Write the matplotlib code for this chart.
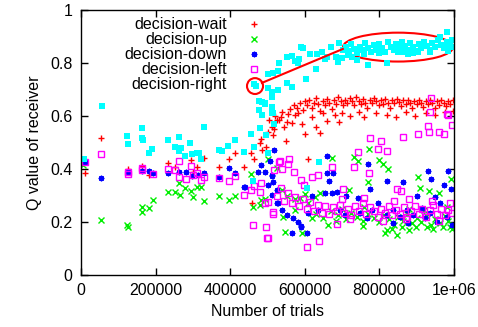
import matplotlib
matplotlib.use('Agg')
import matplotlib.pyplot as plt
from matplotlib.patches import Ellipse

plt.rcParams['font.family'] = ['Liberation Sans', 'DejaVu Sans']

# decision-wait (red +)
wait_x = [10700, 54000, 126000, 163000, 182000, 233000, 252000, 295000, 311000, 300000,
          330000, 370000, 397000, 413000, 437000, 456000, 464000, 458000, 480000, 483000,
          496000, 504000, 512000, 518000, 531000, 515000, 550000, 601000, 641000, 608000,
          630000, 593000, 566000, 552000, 525000, 536000, 555000, 574000, 582000, 660000,
          692000, 486000, 500000, 520000, 540000, 545000,
          560000, 570000, 578000, 588000, 595000, 600000, 606000, 612000, 618000, 625000,
          630000, 636000, 642000, 648000, 655000, 660000, 666000, 672000, 678000, 684000,
          690000, 696000, 702000, 708000, 714000, 720000, 726000, 732000, 738000, 744000,
          750000, 756000, 762000, 768000, 774000, 780000, 786000, 792000, 798000, 804000,
          810000, 816000, 822000, 828000, 834000, 840000, 846000, 852000, 858000, 864000,
          870000, 876000, 882000, 888000, 894000, 900000, 906000, 912000, 918000, 924000,
          930000, 936000, 942000, 948000, 954000, 960000, 966000, 972000, 978000, 984000,
          990000, 996000,
          700000, 720000, 745000, 760000, 790000, 820000, 845000, 870000, 895000, 925000,
          950000, 975000, 998000, 680000, 650000, 620000]
wait_y = [0.385, 0.517, 0.400, 0.411, 0.377, 0.423, 0.408, 0.434, 0.408, 0.389,
          0.442, 0.408, 0.438, 0.460, 0.408, 0.460, 0.438, 0.272, 0.498, 0.513,
          0.483, 0.585, 0.558, 0.551, 0.585, 0.528, 0.506, 0.532, 0.536, 0.438,
          0.558, 0.570, 0.574, 0.577, 0.585, 0.596, 0.608, 0.604, 0.611, 0.581,
          0.577, 0.470, 0.540, 0.600, 0.615, 0.560,
          0.625, 0.640, 0.630, 0.648, 0.622, 0.655, 0.640, 0.660, 0.632, 0.650,
          0.668, 0.645, 0.620, 0.658, 0.640, 0.665, 0.650, 0.628, 0.660, 0.645,
          0.670, 0.655, 0.640, 0.662, 0.648, 0.668, 0.655, 0.640, 0.672, 0.658,
          0.645, 0.665, 0.650, 0.630, 0.662, 0.648, 0.668, 0.655, 0.640, 0.660,
          0.645, 0.665, 0.650, 0.632, 0.660, 0.648, 0.665, 0.652, 0.638, 0.660,
          0.645, 0.662, 0.650, 0.630, 0.658, 0.645, 0.662, 0.650, 0.635, 0.658,
          0.645, 0.660, 0.648, 0.632, 0.655, 0.642, 0.662, 0.650, 0.638, 0.655,
          0.645, 0.660,
          0.610, 0.600, 0.615, 0.598, 0.612, 0.605, 0.595, 0.615, 0.600, 0.612,
          0.605, 0.615, 0.620, 0.605, 0.612, 0.598]

# decision-up (green x)
up_x = [5400, 54000, 123000, 126000, 163000, 163000, 182000, 193000, 233000, 252000,
        263000, 265000, 279000, 295000, 300000, 311000, 322000, 330000, 370000, 397000,
        413000, 456000, 461000, 480000, 493000,
        772000, 743000, 732000, 799000, 810000, 823000, 673000, 769000, 903000, 992000,
        960000, 909000, 933000, 718000, 641000, 601000, 547000, 593000, 662000, 684000,
        756000, 820000, 847000, 815000, 898000, 928000, 989000, 995000,
        501000, 525000, 539000, 552000, 574000, 587000, 609000, 627000, 483000, 542000,
        574000, 619000,
        630000, 650000, 670000, 690000, 710000, 725000, 740000, 755000, 770000, 785000,
        800000, 812000, 825000, 838000, 850000, 862000, 875000, 888000, 900000, 912000,
        925000, 938000, 950000, 962000, 975000, 985000, 997000, 835000, 860000, 880000,
        945000, 970000, 700000, 760000, 880000, 920000, 980000]
up_y = [0.415, 0.208, 0.189, 0.182, 0.257, 0.238, 0.253, 0.283, 0.313, 0.313,
        0.347, 0.302, 0.328, 0.317, 0.294, 0.332, 0.332, 0.279, 0.298, 0.283,
        0.298, 0.381, 0.257, 0.264, 0.287,
        0.475, 0.430, 0.445, 0.434, 0.419, 0.400, 0.442, 0.351, 0.370, 0.362,
        0.309, 0.328, 0.317, 0.321, 0.309, 0.306, 0.162, 0.158, 0.189, 0.204,
        0.185, 0.170, 0.151, 0.158, 0.181, 0.181, 0.181, 0.175,
        0.438, 0.404, 0.321, 0.298, 0.287, 0.291, 0.272, 0.294, 0.283, 0.219,
        0.245, 0.215,
        0.230, 0.215, 0.240, 0.225, 0.210, 0.235, 0.220, 0.205, 0.230, 0.215,
        0.200, 0.225, 0.210, 0.190, 0.220, 0.205, 0.230, 0.195, 0.215, 0.200,
        0.225, 0.190, 0.210, 0.198, 0.222, 0.205, 0.190, 0.175, 0.180, 0.170,
        0.172, 0.180, 0.250, 0.255, 0.250, 0.245, 0.255]

# decision-down (blue *)
down_x = [10700, 54000, 126000, 163000, 182000, 193000, 233000, 263000, 281000, 298000,
          314000, 330000, 370000, 397000, 413000, 437000, 440000, 483000, 507000, 518000,
          512000, 512000, 525000,
          475000, 493000, 512000, 515000, 501000, 525000, 528000, 539000, 552000, 568000,
          582000, 590000, 609000, 635000, 654000, 673000, 686000, 694000, 708000, 743000,
          748000, 767000, 780000, 796000, 820000, 836000, 855000, 874000, 890000, 914000,
          936000, 962000, 981000, 995000, 922000, 954000, 836000, 877000,
          660000, 769000, 676000, 660000, 665000, 775000, 820000, 863000, 930000, 938000,
          973000, 984000, 992000, 566000, 606000, 590000, 620000, 710000, 900000, 950000]
down_y = [0.426, 0.366, 0.389, 0.392, 0.392, 0.385, 0.385, 0.389, 0.389, 0.374,
          0.377, 0.385, 0.370, 0.404, 0.385, 0.332, 0.332, 0.415, 0.430, 0.472,
          0.374, 0.302, 0.272,
          0.389, 0.389, 0.377, 0.351, 0.340, 0.321, 0.272, 0.245, 0.226, 0.215,
          0.200, 0.185, 0.234, 0.245, 0.309, 0.309, 0.313, 0.245, 0.226, 0.291,
          0.234, 0.215, 0.245, 0.272, 0.226, 0.245, 0.219, 0.245, 0.226, 0.253,
          0.234, 0.272, 0.219, 0.189, 0.215, 0.200, 0.196, 0.196,
          0.449, 0.419, 0.385, 0.385, 0.355, 0.325, 0.355, 0.351, 0.392, 0.362,
          0.340, 0.392, 0.325, 0.158, 0.158, 0.181, 0.300, 0.300, 0.300, 0.295]

# decision-left (magenta open squares)
left_x = [10700, 54000, 126000, 126000, 163000, 163000, 193000, 233000, 263000, 252000,
          281000, 263000, 295000, 300000, 311000, 322000, 330000, 370000, 397000, 413000,
          437000, 456000, 461000, 496000, 501000, 464000, 483000, 480000, 515000, 515000,
          531000, 518000, 493000, 501000,
          558000, 534000, 555000, 743000, 775000, 804000, 796000, 820000, 863000, 903000,
          930000, 933000, 960000, 973000, 984000, 995000, 936000, 938000, 981000, 732000,
          772000, 847000, 858000, 673000, 635000, 702000, 606000, 638000, 499000, 686000,
          540000, 570000, 590000, 620000, 598000,
          525000, 535000, 545000, 555000, 565000, 575000, 585000, 595000, 605000, 615000,
          625000, 635000, 645000, 655000, 665000, 675000, 685000, 695000, 705000, 715000,
          725000, 735000, 745000, 755000, 765000, 775000, 785000, 795000, 805000, 815000,
          825000, 835000, 845000, 855000, 865000, 875000, 885000, 895000, 905000, 915000,
          925000, 935000, 945000, 955000, 965000, 975000, 985000, 995000, 700000, 760000,
          840000, 880000, 940000, 990000, 720000, 810000, 870000, 960000]
left_y = [0.426, 0.457, 0.389, 0.380, 0.396, 0.405, 0.381, 0.400, 0.430, 0.396,
          0.362, 0.370, 0.411, 0.377, 0.385, 0.358, 0.370, 0.366, 0.355, 0.374,
          0.302, 0.321, 0.189, 0.181, 0.140, 0.336, 0.347, 0.313, 0.238, 0.230,
          0.426, 0.396, 0.272, 0.275,
          0.438, 0.430, 0.419, 0.464, 0.517, 0.506, 0.475, 0.468, 0.521, 0.532,
          0.562, 0.540, 0.540, 0.532, 0.604, 0.566, 0.615, 0.668, 0.608, 0.408,
          0.385, 0.325, 0.317, 0.408, 0.377, 0.325, 0.106, 0.130, 0.140, 0.192,
          0.400, 0.390, 0.360, 0.370, 0.340,
          0.300, 0.330, 0.280, 0.310, 0.270, 0.295, 0.260, 0.285, 0.250, 0.275,
          0.240, 0.265, 0.235, 0.260, 0.230, 0.255, 0.240, 0.265, 0.235, 0.250,
          0.225, 0.260, 0.240, 0.270, 0.230, 0.255, 0.240, 0.220, 0.250, 0.235,
          0.260, 0.225, 0.245, 0.230, 0.255, 0.220, 0.240, 0.260, 0.230, 0.250,
          0.220, 0.245, 0.265, 0.230, 0.250, 0.225, 0.245, 0.235, 0.285, 0.290,
          0.280, 0.285, 0.280, 0.270, 0.210, 0.205, 0.210, 0.205]

# decision-right (cyan filled squares)
right_x = [8000, 55500, 123000, 126000, 163500, 163000, 165000, 190000, 182000, 233000,
           263000, 252000, 268000, 263000, 292000, 279000, 297000, 311000, 315000, 330000,
           322000, 370000, 378000, 394000, 413000, 437000, 456000, 464000, 461000, 638000,
           606000, 500000, 496000, 480000, 518000,
           469000, 501000, 515000, 531000, 528000, 552000, 566000, 590000, 595000, 574000,
           584000, 582000, 603000, 630000, 614000, 633000, 646000, 654000, 670000, 660000,
           684000, 689000, 692000, 702000, 552000, 566000, 501000, 512000, 528000, 512000,
           485000, 493000, 513000, 477000, 485000, 515000, 478000, 493000, 513000,
           981000, 962000, 769000, 820000, 861000, 877000, 903000, 700000, 740000, 726000,
           710000, 718000, 725000, 732000, 740000, 748000, 755000, 762000, 770000, 778000,
           785000, 792000, 800000, 808000, 815000, 822000, 830000, 838000, 845000, 852000,
           860000, 868000, 875000, 882000, 890000, 898000, 905000, 912000, 920000, 928000,
           935000, 942000, 950000, 958000, 965000, 972000, 980000, 988000, 995000, 998000,
           715000, 760000, 800000, 850000, 890000, 935000, 985000]
right_y = [0.436, 0.638, 0.525, 0.494, 0.555, 0.517, 0.510, 0.475, 0.460, 0.509,
           0.520, 0.483, 0.479, 0.468, 0.498, 0.449, 0.457, 0.460, 0.460, 0.558,
           0.438, 0.472, 0.468, 0.487, 0.509, 0.464, 0.532, 0.483, 0.355, 0.426,
           0.328, 0.462, 0.528, 0.555, 0.570,
           0.713, 0.758, 0.762, 0.800, 0.770, 0.823, 0.826, 0.860, 0.855, 0.808,
           0.815, 0.800, 0.740, 0.777, 0.834, 0.834, 0.842, 0.815, 0.860, 0.823,
           0.823, 0.804, 0.875, 0.849, 0.725, 0.709, 0.706, 0.691, 0.698, 0.672,
           0.653, 0.645, 0.634, 0.623, 0.604, 0.611, 0.657, 0.649, 0.611,
           0.917, 0.898, 0.792, 0.800, 0.842, 0.834, 0.842, 0.819, 0.811, 0.823,
           0.860, 0.845, 0.870, 0.852, 0.838, 0.862, 0.848, 0.875, 0.855, 0.840,
           0.868, 0.850, 0.872, 0.858, 0.842, 0.878, 0.862, 0.848, 0.870, 0.855,
           0.880, 0.865, 0.850, 0.875, 0.860, 0.845, 0.872, 0.858, 0.880, 0.865,
           0.850, 0.876, 0.862, 0.885, 0.868, 0.855, 0.878, 0.865, 0.885, 0.860,
           0.830, 0.835, 0.838, 0.840, 0.838, 0.840, 0.845]

# annotation: small circle, big ellipse and the line joining them
circle_center = (466500, 0.713)
circle_size = (43000, 0.060)
ellipse_center = (850000, 0.860)
ellipse_size = (295000, 0.109)
link_x = [485000, 702000]
link_y = [0.725, 0.853]

fig = plt.figure(figsize=(4.78, 3.27), dpi=100)
ax = fig.add_axes([0.1695, 0.159, 0.7803, 0.8104])

ax.plot(wait_x, wait_y, '+', color='#ff0000', ms=5, mew=1.0, ls='none', label='decision-wait')
ax.plot(up_x, up_y, 'x', color='#00ee00', ms=4, mew=1.0, ls='none', label='decision-up')
ax.plot(down_x, down_y, marker=(8, 2, 0), color='#0000ff', ms=4, mew=1.0, ls='none', label='decision-down')
ax.plot(left_x, left_y, 's', mfc='none', mec='#ff00ff', ms=4.2, mew=1.0, ls='none', label='decision-left')
ax.plot(right_x, right_y, 's', color='#00ffff', ms=4.3, mew=0, ls='none', label='decision-right')

ax.add_patch(Ellipse(circle_center, circle_size[0], circle_size[1], fill=False, ec='red', lw=1.5))
ax.add_patch(Ellipse(ellipse_center, ellipse_size[0], ellipse_size[1], fill=False, ec='red', lw=1.5))
ax.plot(link_x, link_y, color='red', lw=1.5)

ax.set_xlim(0, 1000000)
ax.set_ylim(0, 1)
ax.set_xticks([0, 200000, 400000, 600000, 800000, 1000000])
ax.set_xticklabels(['0', '200000', '400000', '600000', '800000', '1e+06'])
ax.set_yticks([0, 0.2, 0.4, 0.6, 0.8, 1])
ax.set_yticklabels(['0', '0.2', '0.4', '0.6', '0.8', '1'])
ax.tick_params(direction='in', length=5, width=1, top=True, right=True, labelsize=11.5, pad=6)
for s in ax.spines.values():
    s.set_linewidth(1.0)

ax.set_xlabel('Number of trials', fontsize=11.5, labelpad=4)
ax.set_ylabel('Q value of receiver', fontsize=11.5, labelpad=6)

ax.legend(loc='upper right', bbox_to_anchor=(0.528, 1.015), markerfirst=False, frameon=False,
          fontsize=11.5, labelspacing=0.0, handlelength=1.6, handletextpad=0.9,
          borderpad=0.2, markerscale=1.0, numpoints=1)

fig.savefig('out.png', dpi=100)
